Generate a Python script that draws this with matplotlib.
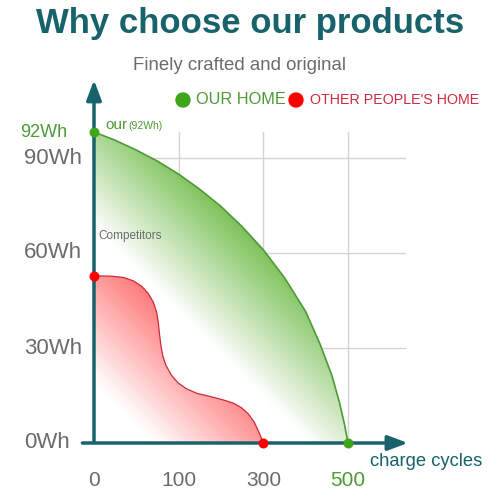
import numpy as np
import matplotlib
matplotlib.use("Agg")
import matplotlib.pyplot as plt
from matplotlib.patches import Polygon

plt.rcParams["font.family"] = ["Liberation Sans", "DejaVu Sans"]

# categorias do eixo x (posicoes 0..3) e rotulos
x_labels = ["0", "100", "300", "500"]
y_ticks = [0, 30, 60, 90]
y_labels = ["0Wh", "30Wh", "60Wh", "90Wh"]

# curva "our" (x em posicao de categoria, y em Wh na escala do desenho)
ours_x = [0, 0.25, 0.5, 0.75, 1.0, 1.25, 1.5, 1.75, 2.0, 2.25, 2.5, 2.67, 2.81, 2.9, 2.96, 3.0]
ours_y = [98.2, 95.6, 92.5, 89.0, 84.9, 80.1, 74.7, 68.3, 61.0, 52.2, 41.5, 31.2, 21.3, 12.7, 5.7, 0]

# curva dos concorrentes
comp_x = [0, 0.189, 0.346, 0.464, 0.563, 0.641, 0.700, 0.740, 0.759, 0.771, 0.787, 0.811,
          0.850, 0.917, 0.996, 1.094, 1.213, 1.370, 1.527, 1.645, 1.744, 1.822, 1.890,
          1.940, 2.0]
comp_y = [52.8, 52.7, 52.3, 51.2, 49.5, 47.2, 44.5, 41.3, 38.2, 35.0, 31.4, 27.6,
          24.5, 21.3, 18.9, 17.1, 15.7, 14.7, 13.6, 12.6, 11.1, 9.2, 6.7,
          3.9, 0]

TEAL = "#17626b"
GRAY = "#6b6b6b"
GREEN = "#4d9a36"
RED = "#cc2a3e"

# escala: 84.67 px por categoria, 95 px por 30Wh
PX_X = 84.67
PX_Y = 95 / 30

fig = plt.figure(figsize=(5, 5), dpi=100)
ax = fig.add_axes([0, 0, 1, 1])
ax.set_xlim(-94 / PX_X, (500 - 94) / PX_X)
ax.set_ylim(-(500 - 443) / PX_Y, 443 / PX_Y)
ax.axis("off")


def gradiente(xs, ys, cor, s0, s1):
    """preenche o poligono com degrade diagonal branco -> cor (s = dx + dy em px)"""
    gx = np.linspace(-0.2, 3.2, 300)
    gy = np.linspace(-2, 102, 300)
    X, Y = np.meshgrid(gx, gy)
    s = X * PX_X + Y * PX_Y
    t = np.clip((s - s0) / (s1 - s0), 0, 1)
    rgb = np.array(matplotlib.colors.to_rgb(cor))
    img = np.ones((300, 300, 4))
    img[..., :3] = 1 - t[..., None] * (1 - rgb)
    im = ax.imshow(img, extent=[gx[0], gx[-1], gy[0], gy[-1]], origin="lower",
                   aspect="auto", zorder=2, interpolation="bilinear")
    poly = Polygon(list(zip(xs, ys)) + [(0, 0)], closed=True, transform=ax.transData,
                   facecolor="none", edgecolor="none")
    ax.add_patch(poly)
    im.set_clip_path(poly)


# grade
for yv in [30, 60, 90]:
    ax.plot([0, (405 - 94) / PX_X], [yv, yv], color="#d4d4d4", lw=1, zorder=1)
for xv in [1, 2, 3]:
    ax.plot([xv, xv], [0, 98.2], color="#d4d4d4", lw=1, zorder=1)

gradiente(ours_x, ours_y, "#7cc159", 215, 365)
gradiente(comp_x, comp_y, "#ff7070", 60, 215)
ax.plot(ours_x, ours_y, color=GREEN, lw=1.2, zorder=3)
ax.plot(comp_x, comp_y, color=RED, lw=0.9, zorder=3)

# eixos com setas
ax.annotate("", xy=(3.74, 0), xytext=(-0.17, 0), zorder=4,
            arrowprops=dict(arrowstyle="-|>,head_length=1.2,head_width=0.45", color=TEAL, lw=2.5))
ax.annotate("", xy=(0, 115.5), xytext=(0, -0.5), zorder=4,
            arrowprops=dict(arrowstyle="-|>,head_length=1.2,head_width=0.45", color=TEAL, lw=2.5))

ax.scatter([0, 3], [ours_y[0], 0], s=38, color="#3fa51c", zorder=5)
ax.scatter([0, 2], [comp_y[0], 0], s=38, color="#ff0000", zorder=5)

# rotulos
x0 = -70 / PX_X
for yv, lab in zip(y_ticks, y_labels):
    ax.text(x0, yv, lab, fontsize=16, color=GRAY, ha="left", va="center")
ax.text(-74 / PX_X, 98.2, "92Wh", fontsize=13, color=GREEN, ha="left", va="center")
for i, lab in enumerate(x_labels):
    ax.text(i, -37 / PX_Y, lab, fontsize=15, color=GREEN if i == 3 else GRAY,
            ha="center", va="center")
ax.text(0.13, 99.3, "our", fontsize=11, color=GREEN, ha="left", va="baseline")
ax.text(0.41, 99.3, "(92Wh)", fontsize=7.5, color=GREEN, ha="left", va="baseline")
ax.text(0.05, 65.4, "Competitors", fontsize=8.5, color=GRAY, ha="left", va="center")
ax.text(3.26, -18 / PX_Y, "charge cycles", fontsize=13.2, color=TEAL, ha="left", va="center")

# titulo e legenda
fig.text(0.5, 1 - 33 / 500, "Why choose our products", fontsize=25, fontweight="bold",
         color=TEAL, ha="center", va="baseline")
fig.text(0.479, 0.87, "Finely crafted and original", fontsize=13.4, color=GRAY,
         ha="center", va="center")
fig.add_artist(plt.Circle((183 / 500, 1 - 100 / 500), 0.014, color="#3fa51c"))
fig.text(196 / 500, 1 - 100 / 500, "OUR HOME", fontsize=11.7, color=GREEN,
         ha="left", va="center")
fig.add_artist(plt.Circle((296 / 500, 1 - 100 / 500), 0.014, color="#ff0000"))
fig.text(310 / 500, 1 - 100 / 500, "OTHER PEOPLE'S HOME", fontsize=10.3, color=RED,
         ha="left", va="center")

fig.savefig("out.png", dpi=100)
